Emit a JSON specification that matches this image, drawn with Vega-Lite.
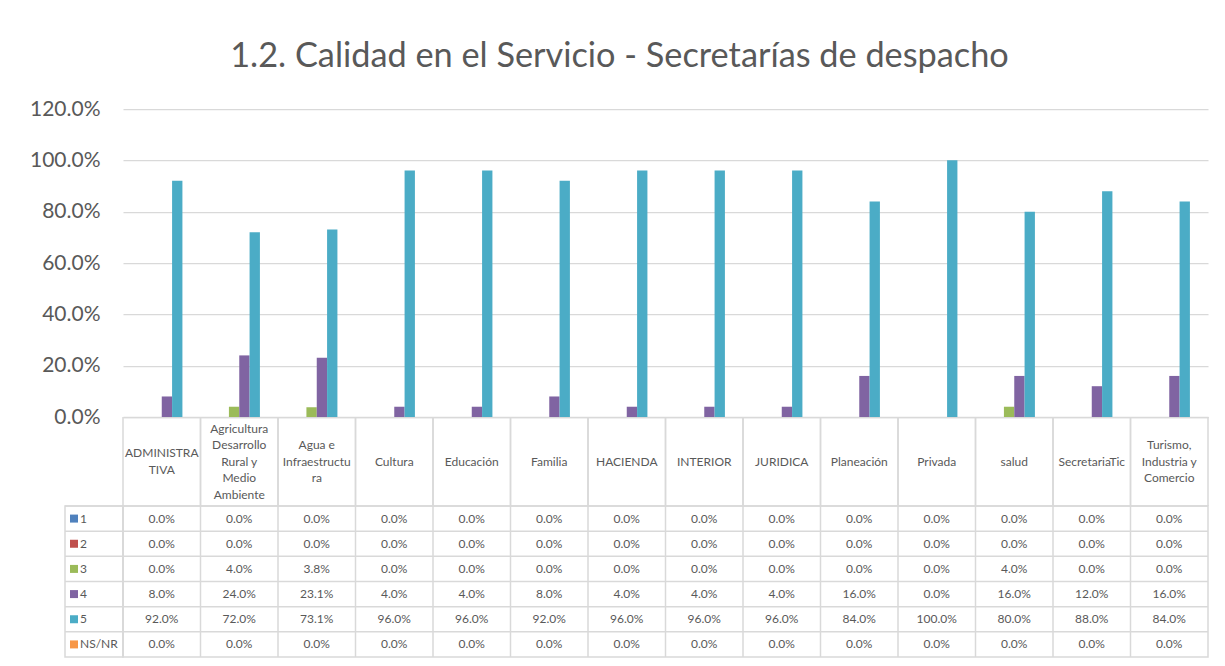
{
  "$schema": "https://vega.github.io/schema/vega-lite/v6.json",
  "background": "white",
  "padding": {"left": 29, "top": 39, "right": 5, "bottom": 5},
  "title": {"text": "1.2. Calidad en el Servicio - Secretarías de despacho", "font": "Lato", "fontSize": 34.3, "fontWeight": "normal", "color": "#595959", "anchor": "middle", "offset": 24},
  "config": {"font": "Lato", "view": {"stroke": null}},
  "spacing": 0,
  "bounds": "flush",
  "datasets": {
    "cats": [
      {"cat": "ADMINISTRATIVA", "label": "ADMINISTRA\nTIVA"},
      {"cat": "Agricultura Desarrollo Rural y Medio Ambiente", "label": "Agricultura\nDesarrollo\nRural y\nMedio\nAmbiente"},
      {"cat": "Agua e Infraestructura", "label": "Agua e\nInfraestructu\nra"},
      {"cat": "Cultura", "label": "Cultura"},
      {"cat": "Educación", "label": "Educación"},
      {"cat": "Familia", "label": "Familia"},
      {"cat": "HACIENDA", "label": "HACIENDA"},
      {"cat": "INTERIOR", "label": "INTERIOR"},
      {"cat": "JURIDICA", "label": "JURIDICA"},
      {"cat": "Planeación", "label": "Planeación"},
      {"cat": "Privada", "label": "Privada"},
      {"cat": "salud", "label": "salud"},
      {"cat": "SecretariaTic", "label": "SecretariaTic"},
      {"cat": "Turismo, Industria y Comercio", "label": "Turismo,\nIndustria y\nComercio"}
    ],
    "vals": [
      {"cat": "ADMINISTRATIVA", "series": "1", "value": 0},
      {"cat": "ADMINISTRATIVA", "series": "2", "value": 0},
      {"cat": "ADMINISTRATIVA", "series": "3", "value": 0},
      {"cat": "ADMINISTRATIVA", "series": "4", "value": 0.08},
      {"cat": "ADMINISTRATIVA", "series": "5", "value": 0.92},
      {"cat": "ADMINISTRATIVA", "series": "NS/NR", "value": 0},
      {"cat": "Agricultura Desarrollo Rural y Medio Ambiente", "series": "1", "value": 0},
      {"cat": "Agricultura Desarrollo Rural y Medio Ambiente", "series": "2", "value": 0},
      {"cat": "Agricultura Desarrollo Rural y Medio Ambiente", "series": "3", "value": 0.04},
      {"cat": "Agricultura Desarrollo Rural y Medio Ambiente", "series": "4", "value": 0.24},
      {"cat": "Agricultura Desarrollo Rural y Medio Ambiente", "series": "5", "value": 0.72},
      {"cat": "Agricultura Desarrollo Rural y Medio Ambiente", "series": "NS/NR", "value": 0},
      {"cat": "Agua e Infraestructura", "series": "1", "value": 0},
      {"cat": "Agua e Infraestructura", "series": "2", "value": 0},
      {"cat": "Agua e Infraestructura", "series": "3", "value": 0.038},
      {"cat": "Agua e Infraestructura", "series": "4", "value": 0.231},
      {"cat": "Agua e Infraestructura", "series": "5", "value": 0.731},
      {"cat": "Agua e Infraestructura", "series": "NS/NR", "value": 0},
      {"cat": "Cultura", "series": "1", "value": 0},
      {"cat": "Cultura", "series": "2", "value": 0},
      {"cat": "Cultura", "series": "3", "value": 0},
      {"cat": "Cultura", "series": "4", "value": 0.04},
      {"cat": "Cultura", "series": "5", "value": 0.96},
      {"cat": "Cultura", "series": "NS/NR", "value": 0},
      {"cat": "Educación", "series": "1", "value": 0},
      {"cat": "Educación", "series": "2", "value": 0},
      {"cat": "Educación", "series": "3", "value": 0},
      {"cat": "Educación", "series": "4", "value": 0.04},
      {"cat": "Educación", "series": "5", "value": 0.96},
      {"cat": "Educación", "series": "NS/NR", "value": 0},
      {"cat": "Familia", "series": "1", "value": 0},
      {"cat": "Familia", "series": "2", "value": 0},
      {"cat": "Familia", "series": "3", "value": 0},
      {"cat": "Familia", "series": "4", "value": 0.08},
      {"cat": "Familia", "series": "5", "value": 0.92},
      {"cat": "Familia", "series": "NS/NR", "value": 0},
      {"cat": "HACIENDA", "series": "1", "value": 0},
      {"cat": "HACIENDA", "series": "2", "value": 0},
      {"cat": "HACIENDA", "series": "3", "value": 0},
      {"cat": "HACIENDA", "series": "4", "value": 0.04},
      {"cat": "HACIENDA", "series": "5", "value": 0.96},
      {"cat": "HACIENDA", "series": "NS/NR", "value": 0},
      {"cat": "INTERIOR", "series": "1", "value": 0},
      {"cat": "INTERIOR", "series": "2", "value": 0},
      {"cat": "INTERIOR", "series": "3", "value": 0},
      {"cat": "INTERIOR", "series": "4", "value": 0.04},
      {"cat": "INTERIOR", "series": "5", "value": 0.96},
      {"cat": "INTERIOR", "series": "NS/NR", "value": 0},
      {"cat": "JURIDICA", "series": "1", "value": 0},
      {"cat": "JURIDICA", "series": "2", "value": 0},
      {"cat": "JURIDICA", "series": "3", "value": 0},
      {"cat": "JURIDICA", "series": "4", "value": 0.04},
      {"cat": "JURIDICA", "series": "5", "value": 0.96},
      {"cat": "JURIDICA", "series": "NS/NR", "value": 0},
      {"cat": "Planeación", "series": "1", "value": 0},
      {"cat": "Planeación", "series": "2", "value": 0},
      {"cat": "Planeación", "series": "3", "value": 0},
      {"cat": "Planeación", "series": "4", "value": 0.16},
      {"cat": "Planeación", "series": "5", "value": 0.84},
      {"cat": "Planeación", "series": "NS/NR", "value": 0},
      {"cat": "Privada", "series": "1", "value": 0},
      {"cat": "Privada", "series": "2", "value": 0},
      {"cat": "Privada", "series": "3", "value": 0},
      {"cat": "Privada", "series": "4", "value": 0},
      {"cat": "Privada", "series": "5", "value": 1.0},
      {"cat": "Privada", "series": "NS/NR", "value": 0},
      {"cat": "salud", "series": "1", "value": 0},
      {"cat": "salud", "series": "2", "value": 0},
      {"cat": "salud", "series": "3", "value": 0.04},
      {"cat": "salud", "series": "4", "value": 0.16},
      {"cat": "salud", "series": "5", "value": 0.80},
      {"cat": "salud", "series": "NS/NR", "value": 0},
      {"cat": "SecretariaTic", "series": "1", "value": 0},
      {"cat": "SecretariaTic", "series": "2", "value": 0},
      {"cat": "SecretariaTic", "series": "3", "value": 0},
      {"cat": "SecretariaTic", "series": "4", "value": 0.12},
      {"cat": "SecretariaTic", "series": "5", "value": 0.88},
      {"cat": "SecretariaTic", "series": "NS/NR", "value": 0},
      {"cat": "Turismo, Industria y Comercio", "series": "1", "value": 0},
      {"cat": "Turismo, Industria y Comercio", "series": "2", "value": 0},
      {"cat": "Turismo, Industria y Comercio", "series": "3", "value": 0},
      {"cat": "Turismo, Industria y Comercio", "series": "4", "value": 0.16},
      {"cat": "Turismo, Industria y Comercio", "series": "5", "value": 0.84},
      {"cat": "Turismo, Industria y Comercio", "series": "NS/NR", "value": 0}
    ]
  },
  "vconcat": [
    {
      "width": 1143,
      "height": 308,
      "data": {"name": "vals"},
      "mark": {"type": "bar"},
      "encoding": {
        "x": {"field": "cat", "type": "nominal", "sort": null,
          "scale": {"domain": ["ADMINISTRATIVA", "Agricultura Desarrollo Rural y Medio Ambiente", "Agua e Infraestructura", "Cultura", "Educación", "Familia", "HACIENDA", "INTERIOR", "JURIDICA", "Planeación", "Privada", "salud", "SecretariaTic", "Turismo, Industria y Comercio"], "rangeMin": 58, "paddingInner": 0, "paddingOuter": 0},
          "axis": {"title": null, "labels": false, "ticks": false, "grid": false, "domain": true, "domainColor": "#D9D9D9", "domainWidth": 1.5}},
        "xOffset": {"field": "series", "type": "nominal", "scale": {"domain": ["1", "2", "3", "4", "5", "NS/NR"], "paddingInner": 0, "paddingOuter": 0.75}},
        "y": {"field": "value", "type": "quantitative",
          "scale": {"domain": [0, 1.2], "nice": false, "zero": true},
          "axis": {"title": null, "values": [0, 0.2, 0.4, 0.6, 0.8, 1.0, 1.2], "format": ".1%", "labelFont": "Lato", "labelFontSize": 21, "labelColor": "#595959", "domain": false, "ticks": false, "tickSize": 0, "labelPadding": -35, "labelAlign": "right", "labelBaseline": "middle", "grid": true, "gridColor": "#D9D9D9", "gridWidth": 1.25}},
        "color": {"field": "series", "type": "nominal", "scale": {"domain": ["1", "2", "3", "4", "5", "NS/NR"], "range": ["#4F81BD", "#C0504D", "#9BBB59", "#8064A2", "#4BACC6", "#F79646"]}, "legend": null}
      }
    },
    {
      "width": 1143,
      "height": 89,
      "data": {"name": "cats"},
      "layer": [
        {
          "mark": {"type": "rule", "color": "#D9D9D9", "strokeWidth": 1.5},
          "encoding": {"x": {"field": "cat", "type": "nominal", "sort": null, "bandPosition": 0,
            "scale": {"domain": ["ADMINISTRATIVA", "Agricultura Desarrollo Rural y Medio Ambiente", "Agua e Infraestructura", "Cultura", "Educación", "Familia", "HACIENDA", "INTERIOR", "JURIDICA", "Planeación", "Privada", "salud", "SecretariaTic", "Turismo, Industria y Comercio"], "rangeMin": 58, "paddingInner": 0, "paddingOuter": 0},
            "axis": null}}
        },
        {
          "mark": {"type": "rule", "color": "#D9D9D9", "strokeWidth": 1.5},
          "encoding": {"x": {"field": "cat", "type": "nominal", "sort": null, "bandPosition": 1, "axis": null}}
        },
        {
          "transform": [{"filter": "indexof(datum.label, '\\n') < 0"}],
          "mark": {"type": "text", "lineBreak": "\n", "font": "Lato", "fontSize": 12, "lineHeight": 16.5, "color": "#595959", "align": "center", "baseline": "middle"},
          "encoding": {"x": {"field": "cat", "type": "nominal", "sort": null, "axis": null}, "text": {"field": "label"}}
        },
        {
          "transform": [{"filter": "datum.cat === 'ADMINISTRATIVA'"}],
          "mark": {"type": "text", "lineBreak": "\n", "font": "Lato", "fontSize": 12, "lineHeight": 16.5, "color": "#595959", "align": "center", "baseline": "middle", "dy": -8.25},
          "encoding": {"x": {"field": "cat", "type": "nominal", "sort": null, "axis": null}, "text": {"field": "label"}}
        },
        {
          "transform": [{"filter": "datum.cat === 'Agua e Infraestructura' || datum.cat === 'Turismo, Industria y Comercio'"}],
          "mark": {"type": "text", "lineBreak": "\n", "font": "Lato", "fontSize": 12, "lineHeight": 16.5, "color": "#595959", "align": "center", "baseline": "middle", "dy": -16.5},
          "encoding": {"x": {"field": "cat", "type": "nominal", "sort": null, "axis": null}, "text": {"field": "label"}}
        },
        {
          "transform": [{"filter": "datum.cat === 'Agricultura Desarrollo Rural y Medio Ambiente'"}],
          "mark": {"type": "text", "lineBreak": "\n", "font": "Lato", "fontSize": 12, "lineHeight": 16.5, "color": "#595959", "align": "center", "baseline": "middle", "dy": -33},
          "encoding": {"x": {"field": "cat", "type": "nominal", "sort": null, "axis": null}, "text": {"field": "label"}}
        }
      ]
    },
    {
      "spacing": 0,
      "bounds": "flush",
      "hconcat": [
        {
          "width": 58,
          "height": 151,
          "view": {"stroke": "#D9D9D9", "strokeWidth": 1.5},
          "data": {"name": "vals"},
          "transform": [{"filter": "datum.cat === 'ADMINISTRATIVA'"}],
          "layer": [
            {
              "mark": {"type": "rule", "color": "#D9D9D9", "strokeWidth": 1.5},
              "encoding": {"y": {"field": "series", "type": "nominal", "bandPosition": 0,
                "scale": {"domain": ["1", "2", "3", "4", "5", "NS/NR"], "paddingInner": 0, "paddingOuter": 0}, "axis": null}}
            },
            {
              "mark": {"type": "point", "shape": "square", "filled": true, "size": 64, "opacity": 1},
              "encoding": {
                "x": {"datum": "key", "type": "nominal", "scale": {"type": "point", "domain": ["key", "name"], "range": [9, 15], "padding": 0}, "axis": null},
                "y": {"field": "series", "type": "nominal", "axis": null},
                "color": {"field": "series", "type": "nominal", "scale": {"domain": ["1", "2", "3", "4", "5", "NS/NR"], "range": ["#4F81BD", "#C0504D", "#9BBB59", "#8064A2", "#4BACC6", "#F79646"]}, "legend": null}
              }
            },
            {
              "mark": {"type": "text", "align": "left", "baseline": "middle", "font": "Lato", "fontSize": 12, "color": "#595959"},
              "encoding": {
                "x": {"datum": "name", "type": "nominal", "axis": null},
                "y": {"field": "series", "type": "nominal", "axis": null},
                "text": {"field": "series"}
              }
            }
          ]
        },
        {
          "width": 1085,
          "height": 151,
          "view": {"stroke": "#D9D9D9", "strokeWidth": 1.5},
          "layer": [
            {
              "data": {"name": "cats"},
              "mark": {"type": "rule", "color": "#D9D9D9", "strokeWidth": 1.5},
              "encoding": {"x": {"field": "cat", "type": "nominal", "sort": null, "bandPosition": 0,
                "scale": {"domain": ["ADMINISTRATIVA", "Agricultura Desarrollo Rural y Medio Ambiente", "Agua e Infraestructura", "Cultura", "Educación", "Familia", "HACIENDA", "INTERIOR", "JURIDICA", "Planeación", "Privada", "salud", "SecretariaTic", "Turismo, Industria y Comercio"], "paddingInner": 0, "paddingOuter": 0},
                "axis": null}}
            },
            {
              "data": {"name": "vals"},
              "transform": [{"filter": "datum.cat === 'ADMINISTRATIVA'"}],
              "mark": {"type": "rule", "color": "#D9D9D9", "strokeWidth": 1.5},
              "encoding": {"y": {"field": "series", "type": "nominal", "bandPosition": 0,
                "scale": {"domain": ["1", "2", "3", "4", "5", "NS/NR"], "paddingInner": 0, "paddingOuter": 0}, "axis": null}}
            },
            {
              "data": {"name": "vals"},
              "mark": {"type": "text", "align": "center", "baseline": "middle", "font": "Lato", "fontSize": 12, "color": "#595959"},
              "encoding": {
                "x": {"field": "cat", "type": "nominal", "sort": null, "axis": null},
                "y": {"field": "series", "type": "nominal", "axis": null},
                "text": {"field": "value", "type": "quantitative", "format": ".1%"}
              }
            }
          ]
        }
      ]
    }
  ]
}
